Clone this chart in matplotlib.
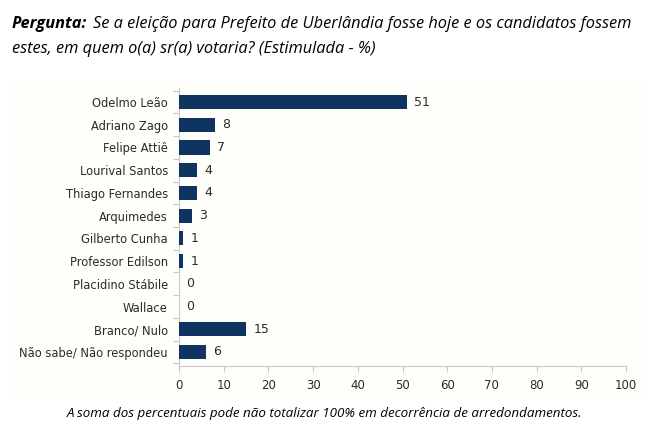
import matplotlib
matplotlib.use("Agg")
import matplotlib.pyplot as plt
from matplotlib.patches import Rectangle
import numpy as np

CANDIDATES = ["Odelmo Leão", "Adriano Zago", "Felipe Attiê", "Lourival Santos",
              "Thiago Fernandes", "Arquimedes", "Gilberto Cunha", "Professor Edilson",
              "Placidino Stábile", "Wallace", "Branco/ Nulo", "Não sabe/ Não respondeu"]
VALUES = [51, 8, 7, 4, 4, 3, 1, 1, 0, 0, 15, 6]
X_TICKS = list(range(0, 101, 10))

BAR_COLOR = "#0f3461"
AXIS_COLOR = "#c8c8c8"
TEXT_COLOR = "#2b2b2b"
CHART_FONT = ["DejaVu Sans"]
NOTE_FONT = ["Open Sans", "DejaVu Sans"]

fig = plt.figure(figsize=(6.65, 4.32), dpi=100)
fig.patch.set_facecolor("white")

# faint panel behind the chart
fig.patches.append(Rectangle((10 / 665, 1 - 396 / 432), 638 / 665, 316 / 432,
                             transform=fig.transFigure, facecolor="#fefefb",
                             edgecolor="none", zorder=-5))

ax = fig.add_axes([179 / 665, 1 - 365.6 / 432, 447 / 665, 277.2 / 432])
ax.set_facecolor("none")

y = np.arange(len(CANDIDATES))
ax.barh(y, VALUES, height=0.62, color=BAR_COLOR, zorder=3)
for yi, v in zip(y, VALUES):
    ax.text(v + 1.6, yi, str(v), va="center", ha="left", fontsize=9,
            color=TEXT_COLOR, family=CHART_FONT)

ax.set_xlim(0, 100)
ax.set_ylim(len(CANDIDATES) - 0.4, -0.6)
ax.set_xticks(X_TICKS)
ax.set_yticks(y)
ax.set_yticklabels(CANDIDATES)
ax.set_yticks(np.arange(-0.5, len(CANDIDATES), 1), minor=True)
for lbl in ax.get_xticklabels() + ax.get_yticklabels():
    lbl.set_family(CHART_FONT)

for side in ["top", "right"]:
    ax.spines[side].set_visible(False)
for side in ["left", "bottom"]:
    ax.spines[side].set_color(AXIS_COLOR)
    ax.spines[side].set_linewidth(0.8)

ax.tick_params(axis="y", which="major", length=0, pad=8, labelsize=8.3, labelcolor=TEXT_COLOR)
ax.tick_params(axis="y", which="minor", length=4, color=AXIS_COLOR, width=0.8)
ax.tick_params(axis="x", length=4, color=AXIS_COLOR, width=0.8, pad=6,
               labelsize=8.5, labelcolor=TEXT_COLOR)

# question header: bold lead-in, then the rest placed right after it
lead = fig.text(12 / 665, 1 - 24 / 432, "Pergunta:", fontsize=11.8, fontweight="bold",
                style="italic", color="black", va="center", family=NOTE_FONT)
renderer = fig.canvas.get_renderer()
bb = lead.get_window_extent(renderer)
fig.text((bb.x1 + 6) / 665, 1 - 24 / 432,
         "Se a eleição para Prefeito de Uberlândia fosse hoje e os candidatos fossem",
         fontsize=11.8, style="italic", color="black", va="center", family=NOTE_FONT)
fig.text(12 / 665, 1 - 49 / 432, "estes, em quem o(a) sr(a) votaria? (Estimulada - %)",
         fontsize=11.8, style="italic", color="black", va="center", family=NOTE_FONT)
fig.text(0.488, 1 - 413 / 432,
         "A soma dos percentuais pode não totalizar 100% em decorrência de arredondamentos.",
         fontsize=9.6, style="italic", color="black", ha="center", va="center",
         family=NOTE_FONT)

fig.savefig("out.png", dpi=100)
